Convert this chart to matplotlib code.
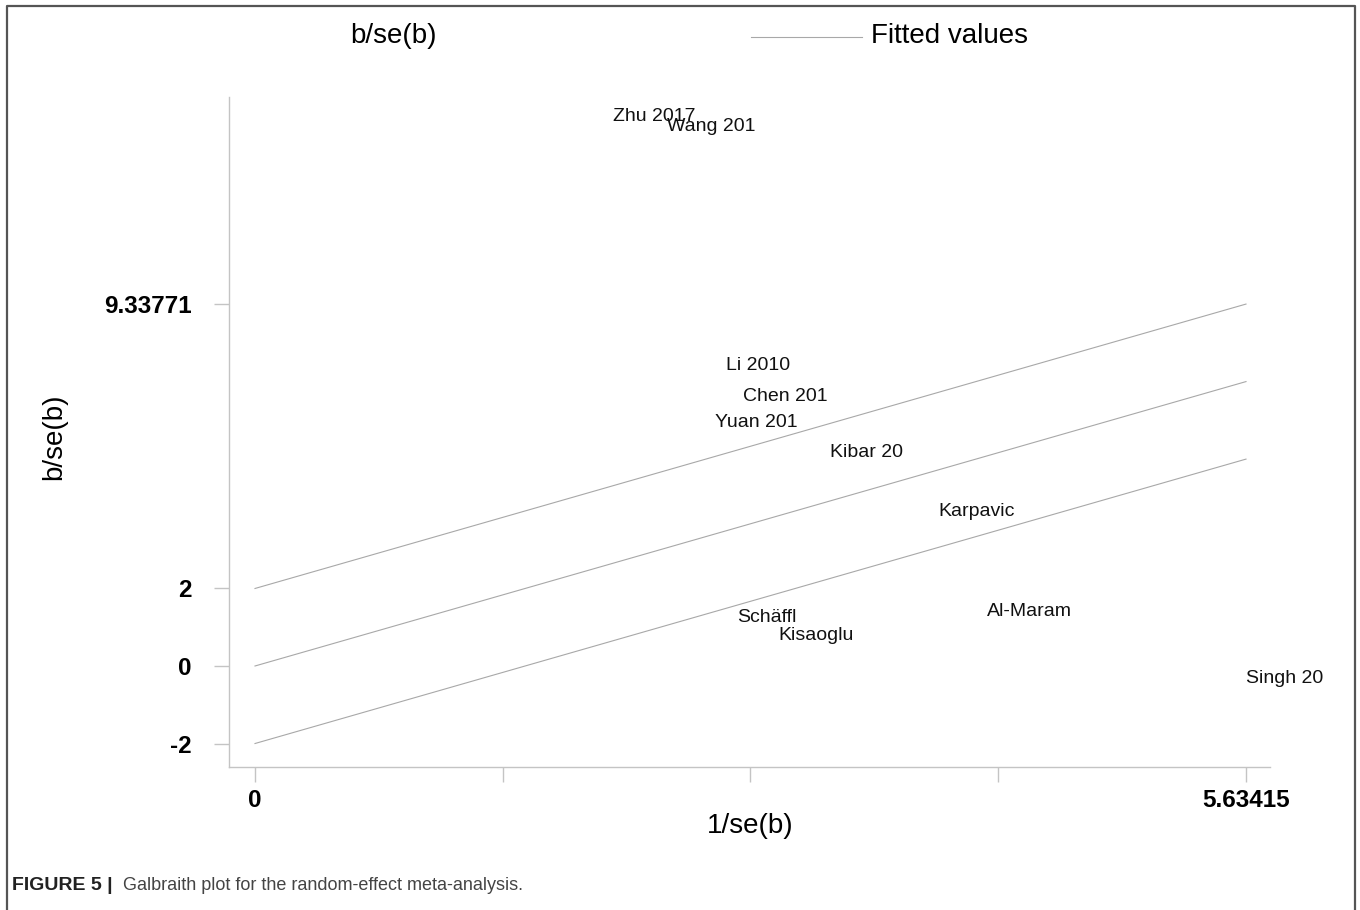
import matplotlib
matplotlib.use("Agg")
import matplotlib.pyplot as plt
from matplotlib.lines import Line2D

plt.rcParams['font.family'] = ['Liberation Sans', 'DejaVu Sans']

# study precision (1/se) and standardised effect (b/se)
studies = ["Zhu 2017", "Wang 201", "Li 2010", "Chen 201", "Yuan 201", "Kibar 20",
           "Karpavic", "Al-Maram", "Schäffl", "Kisaoglu", "Singh 20"]
inv_se = [2.035, 2.342, 2.678, 2.776, 2.618, 3.269, 3.883, 4.161, 2.740, 2.973, 5.634]
z_stat = [14.25, 13.99, 7.82, 7.02, 6.35, 5.57, 4.05, 1.47, 1.32, 0.86, -0.26]

x_max = 5.63415
upper_end = 9.33771
slope = (upper_end - 2) / x_max

fig = plt.figure(figsize=(13.6, 9.1), dpi=100)
ax = fig.add_axes([229 / 1360, 143 / 910, 1041 / 1360, 670 / 910])

# fitted line through origin plus the +/-2 band
xs = [0, x_max]
for off in (2, 0, -2):
    ax.plot(xs, [off + slope * v for v in xs], color="#a8a8a8", lw=0.8)

# study labels sit where the (hidden) markers are
for name, xv, yv in zip(studies, inv_se, z_stat):
    ax.annotate(name, (xv, yv), xytext=(0, -2), textcoords="offset points",
                fontsize=14, ha="left", va="center", color="#111111")

ax.set_xlim(-0.1478, 5.7706)
ax.set_ylim(-2.606, 14.68)

for s in ("top", "right"):
    ax.spines[s].set_visible(False)
for s in ("left", "bottom"):
    ax.spines[s].set_color("#c4c4c4")
    ax.spines[s].set_linewidth(1.0)

xt = [0, x_max / 4, x_max / 2, 3 * x_max / 4, x_max]
ax.set_xticks(xt)
ax.set_xticklabels(["0", "", "", "", "5.63415"], fontsize=17.5, fontweight="bold")
ax.set_yticks([-2, 0, 2, upper_end])
ax.set_yticklabels(["-2", "0", "2", "9.33771"], fontsize=17.5, fontweight="bold")
ax.tick_params(axis="x", length=11, width=1, color="#c4c4c4", pad=5)
ax.tick_params(axis="y", length=11, width=1, color="#c4c4c4", pad=16)

fig.text(750 / 1360, 1 - 826 / 910, "1/se(b)", fontsize=20, ha="center", va="center")
fig.text(54 / 1360, 1 - 437 / 910, "b/se(b)", fontsize=20, ha="center", va="center",
         rotation=90)

# legend row across the top
fig.text(393 / 1360, 1 - 36 / 910, "b/se(b)", fontsize=20, ha="center", va="center")
fig.add_artist(Line2D([751 / 1360, 862 / 1360], [1 - 37 / 910, 1 - 37 / 910],
                      color="#a8a8a8", lw=0.8))
fig.text(871 / 1360, 1 - 36 / 910, "Fitted values", fontsize=20, ha="left", va="center")

# outer frame
fx = [7 / 1360, 7 / 1360, 1355 / 1360, 1355 / 1360]
fy = [0, 1 - 6 / 910, 1 - 6 / 910, 0]
fig.add_artist(Line2D(fx, fy, color="#555555", lw=1.6))

fig.text(12 / 1360, 1 - 885 / 910, "FIGURE 5 |", fontsize=14, fontweight="bold",
         color="#222222", ha="left", va="center")
fig.text(123 / 1360, 1 - 885 / 910, "Galbraith plot for the random-effect meta-analysis.",
         fontsize=13, color="#444444", ha="left", va="center")

fig.savefig("out.png", dpi=100)
